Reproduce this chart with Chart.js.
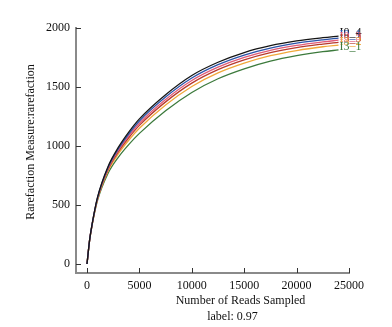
<!DOCTYPE html>
<html>
<head>
<meta charset="utf-8">
<script src="https://cdn.jsdelivr.net/npm/chart.js@4"></script>
<style>
  html, body { margin: 0; padding: 0; background: #fff; }
  #wrap { width: 392px; height: 327px; }
</style>
</head>
<body>
<div id="wrap"><canvas id="rare"></canvas></div>
<script>
// reads sampled (x) and rarefaction values per sample
const reads = [0, 250, 500, 1000, 2000, 3000, 4000, 5000, 7500, 10000, 12500, 15000, 17500, 20000, 22500, 24000];
const I0_4 = [0, 205, 345, 565, 825, 990, 1120, 1230, 1435, 1598, 1710, 1792, 1850, 1890, 1918, 1932];
const I0_1 = [0, 204, 344, 561, 816, 977, 1104, 1212, 1415, 1576, 1689, 1771, 1830, 1871, 1900, 1914];
const I0_3 = [0, 204, 342, 557, 808, 965, 1088, 1193, 1394, 1555, 1668, 1751, 1811, 1852, 1882, 1897];
const I3_3 = [0, 203, 341, 552, 799, 952, 1072, 1175, 1374, 1533, 1647, 1730, 1791, 1834, 1864, 1879];
const I3_2 = [0, 202, 339, 547, 787, 935, 1051, 1150, 1347, 1504, 1619, 1702, 1765, 1809, 1841, 1855];
const I3_1 = [0, 201, 335, 537, 767, 906, 1014, 1107, 1299, 1454, 1570, 1654, 1719, 1765, 1799, 1814];

const names = ['I0_4', 'I0_1', 'I0_3', 'I3_3', 'I3_2', 'I3_1'];
const values = [I0_4, I0_1, I0_3, I3_3, I3_2, I3_1];
const colors = ['#151515', '#2a52a8', '#e05a78', '#b83a2e', '#f0a83a', '#3c7a3c'];

const xTicks = [0, 5000, 10000, 15000, 20000, 25000];
const yTicks = [0, 500, 1000, 1500, 2000];

const serif = '"Liberation Serif", "DejaVu Serif", serif';

const decor = {
  id: 'decor',
  afterDraw(chart) {
    const { ctx, chartArea } = chart;
    const x = chart.scales.x, y = chart.scales.y;
    ctx.save();
    // inward tick marks
    ctx.strokeStyle = '#333';
    ctx.lineWidth = 1;
    ctx.beginPath();
    yTicks.forEach(v => {
      const py = Math.round(y.getPixelForValue(v)) + 0.5;
      ctx.moveTo(chartArea.left, py);
      ctx.lineTo(chartArea.left + 5, py);
    });
    xTicks.forEach(v => {
      const px = Math.round(x.getPixelForValue(v)) + 0.5;
      ctx.moveTo(px, chartArea.bottom);
      ctx.lineTo(px, chartArea.bottom - 5);
    });
    ctx.stroke();

    // labels at the end of each curve
    ctx.font = '12px ' + serif;
    ctx.textAlign = 'left';
    ctx.textBaseline = 'middle';
    chart.data.datasets.forEach((ds, i) => {
      const pts = chart.getDatasetMeta(i).data;
      const last = pts[pts.length - 1];
      ctx.fillStyle = colors[i];
      ctx.fillText(names[i], last.x + 1, last.y - 3);
    });

    // axis titles
    ctx.fillStyle = '#111';
    ctx.textAlign = 'center';
    ctx.textBaseline = 'middle';
    const cx = (chartArea.left + chartArea.right) / 2 + 28;
    ctx.fillText('Number of Reads Sampled', cx, chartArea.bottom + 28);
    ctx.fillText('label: 0.97', cx - 8, chartArea.bottom + 44);
    ctx.translate(31, chartArea.top + 114);
    ctx.rotate(-Math.PI / 2);
    ctx.fillText('Rarefaction Measure:rarefaction', 0, 0);
    ctx.restore();
  }
};

new Chart(document.getElementById('rare'), {
  type: 'line',
  data: {
    datasets: names.map((n, i) => ({
      label: n,
      data: reads.map((r, j) => ({ x: r, y: values[i][j] })),
      borderColor: colors[i],
      borderWidth: 1.3,
      pointRadius: 0,
      fill: false,
      cubicInterpolationMode: 'monotone'
    }))
  },
  options: {
    responsive: true,
    maintainAspectRatio: false,
    animation: false,
    layout: { padding: { top: 28, right: 43, left: 0, bottom: 0 } },
    plugins: { legend: { display: false }, tooltip: { enabled: false } },
    scales: {
      x: {
        type: 'linear',
        min: -1050,
        max: 25000,
        afterBuildTicks(scale) { scale.ticks = xTicks.map(v => ({ value: v })); },
        afterFit(scale) { scale.height = 54; },
        grid: { display: false, drawTicks: false },
        border: { display: true, color: '#8a8a8a', width: 2 },
        ticks: { padding: 6, color: '#111', font: { family: serif, size: 12 }, maxRotation: 0,
                 callback: v => String(v) }
      },
      y: {
        type: 'linear',
        min: -76,
        max: 2000,
        afterBuildTicks(scale) { scale.ticks = yTicks.map(v => ({ value: v })); },
        afterFit(scale) { scale.width = 76; },
        grid: { display: false, drawTicks: false },
        border: { display: true, color: '#8a8a8a', width: 2 },
        ticks: { padding: 6, color: '#111', font: { family: serif, size: 12 },
                 callback: v => String(v) }
      }
    }
  },
  plugins: [decor]
});
</script>
</body>
</html>
